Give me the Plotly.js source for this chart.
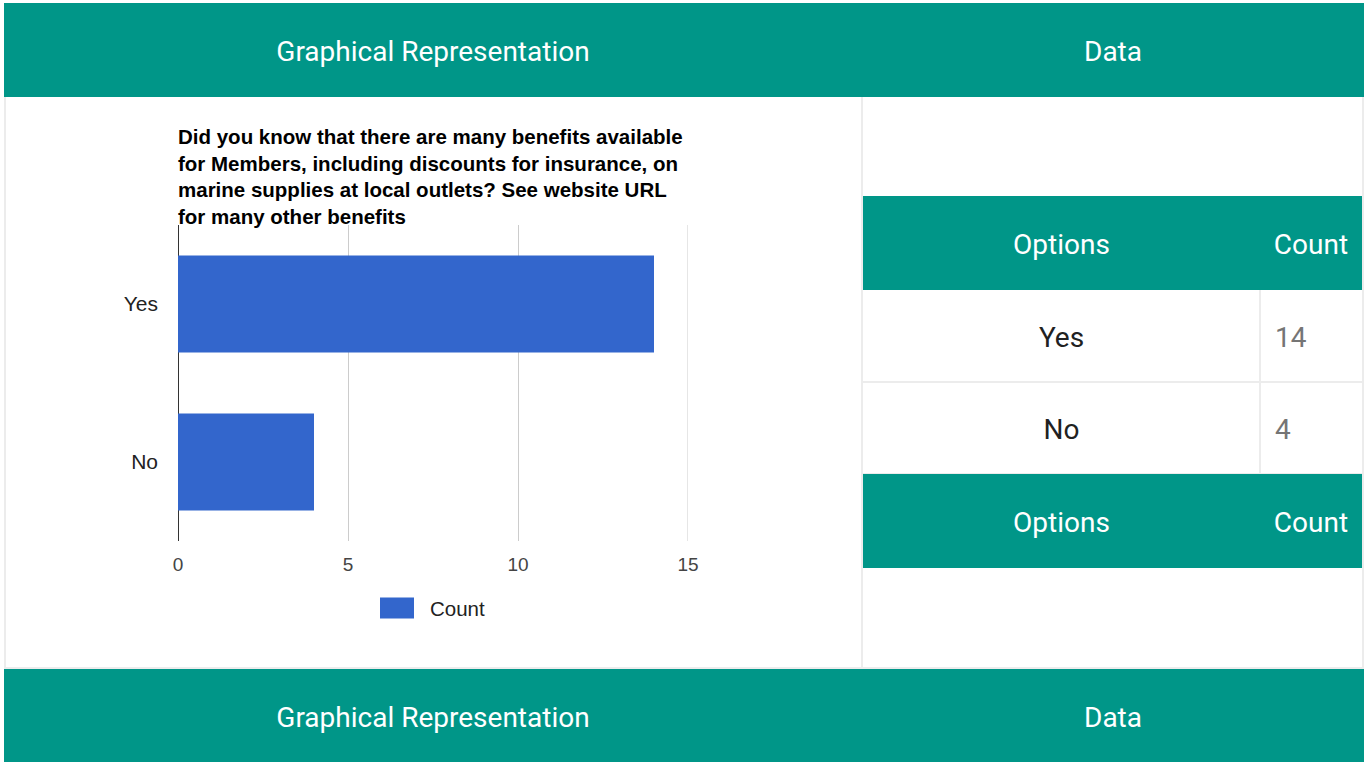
<!DOCTYPE html>
<html>
<head>
<meta charset="utf-8">
<script src="https://cdn.plot.ly/plotly-3.0.1.min.js"></script>
<style>
  html, body { margin: 0; padding: 0; background: #fff; width: 1369px; height: 765px; overflow: hidden; }
  .abs { position: absolute; box-sizing: border-box; }
  .teal { background: #009688; color: #fff; font-family: Roboto, "Noto Sans", sans-serif; font-size: 28px; }
  .cell { position: absolute; top: 0; height: 100%; display: flex; align-items: center; justify-content: center; padding-top: 3px; box-sizing: border-box; }
  .gray { background: #ececec; }
  .row { font-family: Roboto, "Noto Sans", sans-serif; font-size: 28px; color: #212121; }
  .num { color: #757575; justify-content: flex-start; padding-left: 15px; }
</style>
</head>
<body>
<div id="page"></div>
<div id="chart" class="abs" style="left:6px; top:97px; width:855px; height:570px;"></div>
<script>
// ---- data ----
const categories = ["Yes", "No"];
const counts = [14, 4];
const seriesName = "Count";
const chartTitle = "Did you know that there are many benefits available<br>for Members, including discounts for insurance, on<br>marine supplies at local outlets? See website URL<br>for many other benefits";
const headerLabels = ["Graphical Representation", "Data"];
const tableHeaders = ["Options", "Count"];
const xMax = 15;

// ---- page frame ----
const page = document.getElementById('page');
function el(style, cls, html) {
  const d = document.createElement('div');
  d.className = 'abs ' + (cls || '');
  d.style.cssText = style;
  if (html !== undefined) d.innerHTML = html;
  page.appendChild(d);
  return d;
}
function addCell(parent, left, width, text, extra) {
  const c = document.createElement('div');
  c.className = 'cell' + (extra ? ' ' + extra : '');
  c.style.left = left + 'px'; c.style.width = width + 'px';
  c.textContent = text;
  parent.appendChild(c);
}
function headerBar(top, height) {
  const bar = el(`left:4px; top:${top}px; width:1360px; height:${height}px;`, 'teal');
  addCell(bar, 0, 858, headerLabels[0]);
  addCell(bar, 858, 502, headerLabels[1]);
}
headerBar(3, 94);
headerBar(669, 93);
// borders of body row
el('left:4px; top:97px; width:2px; height:572px;', 'gray');
el('left:861px; top:97px; width:2px; height:572px;', 'gray');
el('left:1362px; top:97px; width:2px; height:572px;', 'gray');
el('left:4px; top:667px; width:1360px; height:2px;', 'gray');

// inner data table
function tableHeader(top) {
  const bar = el(`left:863px; top:${top}px; width:499px; height:94px;`, 'teal');
  addCell(bar, 0, 397, tableHeaders[0]);
  addCell(bar, 397, 102, tableHeaders[1]);
}
tableHeader(196);
categories.forEach((cat, i) => {
  const top = 290 + i * 92;
  const r = el(`left:863px; top:${top}px; width:499px; height:92px;`, 'row');
  addCell(r, 0, 397, cat);
  addCell(r, 397, 102, String(counts[i]), 'num');
  el(`left:863px; top:${top + 91}px; width:499px; height:2px;`, 'gray');
  el(`left:1259px; top:${top}px; width:2px; height:92px;`, 'gray');
});
tableHeader(474);

// ---- chart ----
const trace = {
  type: 'bar',
  orientation: 'h',
  y: categories,
  x: counts,
  name: seriesName,
  marker: { color: '#3366cc' },
  hoverinfo: 'none'
};
const layout = {
  width: 855, height: 570,
  margin: { l: 172, r: 173, t: 128, b: 126 },
  paper_bgcolor: 'rgba(0,0,0,0)',
  plot_bgcolor: 'rgba(0,0,0,0)',
  showlegend: false,
  bargap: 0.386,
  font: { family: '"Liberation Sans", Arial, sans-serif', size: 20, color: '#222' },
  title: {
    text: '<b>' + chartTitle + '</b>',
    x: 172 / 855, xanchor: 'left', xref: 'container',
    y: 1 - 47 / 570, yanchor: 'middle', yref: 'container',
    font: { family: '"Liberation Sans", Arial, sans-serif', size: 20.5, color: '#000' }
  },
  xaxis: {
    range: [0, xMax], dtick: 5, tick0: 0,
    showgrid: true, gridcolor: '#cccccc', gridwidth: 1,
    zeroline: true, zerolinecolor: '#333333', zerolinewidth: 1,
    showline: false, ticks: '',
    tickfont: { color: '#444', size: 19 },
    ticklabelstandoff: 10,
    fixedrange: true
  },
  yaxis: {
    type: 'category', categoryorder: 'array', categoryarray: categories,
    autorange: 'reversed',
    showgrid: false, zeroline: false, showline: false, ticks: '',
    tickfont: { color: '#222', size: 21 },
    ticklabelstandoff: 19,
    fixedrange: true
  },
  shapes: [{
    // gridline at the right edge of the axis range (Plotly skips it at the edge)
    type: 'line', xref: 'x', yref: 'paper', layer: 'below',
    x0: xMax, x1: xMax, y0: 0, y1: 1,
    line: { color: '#cccccc', width: 1 }
  }, {
    type: 'rect', xref: 'paper', yref: 'paper',
    x0: (380 - 178) / 510, x1: (414 - 178) / 510,
    y0: (540.5 - 597) / 316, y1: (540.5 - 618) / 316,
    fillcolor: '#3366cc', line: { width: 0 }
  }],
  annotations: [{
    xref: 'paper', yref: 'paper',
    x: (428 - 178) / 510, y: (540.5 - 608) / 316,
    xanchor: 'left', yanchor: 'middle', showarrow: false,
    text: seriesName, font: { size: 20.5, color: '#222' }
  }]
};
Plotly.newPlot('chart', [trace], layout, { displayModeBar: false, staticPlot: true });
</script>
</body>
</html>
